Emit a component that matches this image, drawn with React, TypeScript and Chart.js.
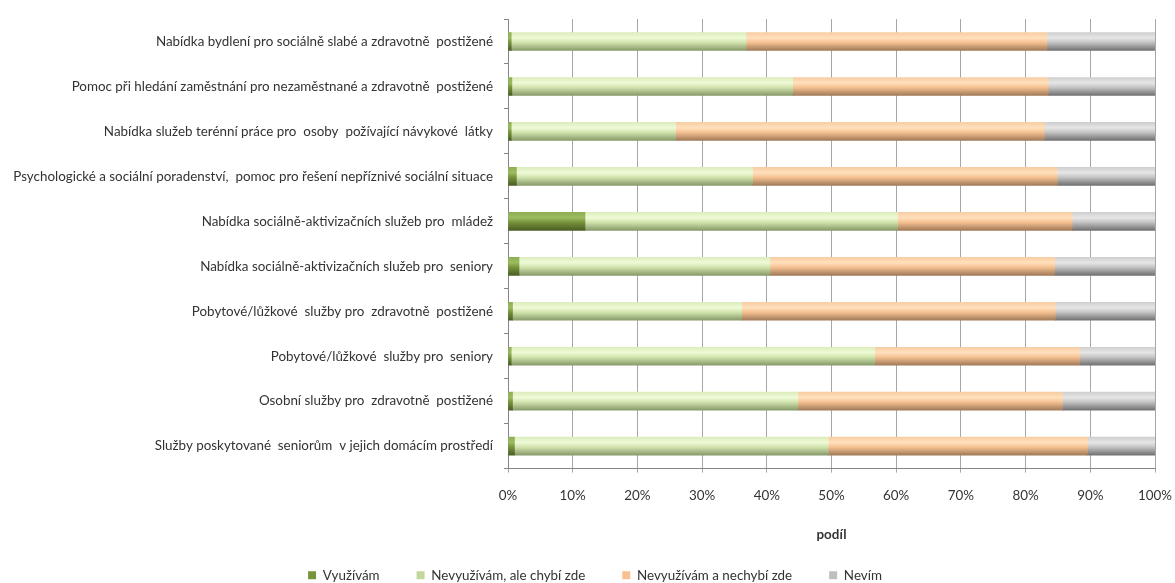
import React, { useEffect, useRef } from 'react';
import { Chart, registerables } from 'chart.js';

Chart.register(...registerables);

const categories = [
  'Nabídka bydlení pro sociálně slabé a zdravotně  postižené',
  'Pomoc při hledání zaměstnání pro nezaměstnané a zdravotně  postižené',
  'Nabídka služeb terénní práce pro  osoby  požívající návykové  látky',
  'Psychologické a sociální poradenství,  pomoc pro řešení nepříznivé sociální situace',
  'Nabídka sociálně-aktivizačních služeb pro  mládež',
  'Nabídka sociálně-aktivizačních služeb pro  seniory',
  'Pobytové/lůžkové  služby pro  zdravotně  postižené',
  'Pobytové/lůžkové  služby pro  seniory',
  'Osobní služby pro  zdravotně  postižené',
  'Služby poskytované  seniorům  v jejich domácím prostředí',
];

const seriesNames = ['Využívám', 'Nevyužívám, ale chybí zde', 'Nevyužívám a nechybí zde', 'Nevím'];

const vyuzivam = [0.5, 0.6, 0.5, 1.3, 11.9, 1.7, 0.7, 0.5, 0.7, 1.0];
const chybiZde = [36.3, 43.4, 25.4, 36.5, 48.3, 38.8, 35.4, 56.2, 44.1, 48.5];
const nechybiZde = [46.5, 39.5, 57.0, 47.1, 27.0, 44.0, 48.5, 31.7, 40.9, 40.1];
const nevim = [16.7, 16.5, 17.1, 15.1, 12.8, 15.5, 15.4, 11.6, 14.3, 10.4];

const xMin = 0;
const xMax = 100;
const xStep = 10;
const xTitle = 'podíl';

const legendColors = ['#77933C', '#C3D69B', '#FAC090', '#BFBFBF'];
// gradient stops: top, highlight, base, bottom
const gradientStops = [
  ['#8FAE55', '#9CBC60', '#77933C', '#4A5E24'],
  ['#DDEDBE', '#EEFAD6', '#D2E4AE', '#879A69'],
  ['#F8CDA4', '#FFE0BD', '#F6C292', '#A07A58'],
  ['#CFCFCF', '#E6E6E6', '#C4C4C4', '#717171'],
];

const BAR = 18;

function makeBg(i: number) {
  return (ctx: any) => {
    const chart = ctx.chart;
    const { chartArea, scales } = chart;
    if (!chartArea || ctx.type !== 'data' || !scales.y) return legendColors[i];
    const y = scales.y.getPixelForValue(ctx.dataIndex);
    const g = chart.ctx.createLinearGradient(0, y - BAR / 2, 0, y + BAR / 2);
    const s = gradientStops[i];
    g.addColorStop(0, s[0]);
    g.addColorStop(0.3, s[1]);
    g.addColorStop(0.55, s[2]);
    g.addColorStop(1, s[3]);
    return g;
  };
}

export default function App() {
  const ref = useRef<HTMLCanvasElement | null>(null);
  useEffect(() => {
    if (!ref.current) return;
    const seriesData = [vyuzivam, chybiZde, nechybiZde, nevim];
    const font = { family: 'Lato, "Open Sans", sans-serif', size: 13.4 };
    const chart = new Chart(ref.current, {
      type: 'bar',
      data: {
        labels: categories,
        datasets: seriesData.map((d, i) => ({
          label: seriesNames[i],
          data: d,
          backgroundColor: makeBg(i),
          borderWidth: 0,
          barThickness: BAR,
        })),
      },
      options: {
        indexAxis: 'y',
        animation: false,
        responsive: true,
        maintainAspectRatio: false,
        layout: { padding: { top: 15, right: -7, left: 8, bottom: -9 } },
        scales: {
          x: {
            stacked: true,
            min: xMin,
            max: xMax,
            ticks: {
              stepSize: xStep,
              callback: (v: any) => v + '%',
              font,
              color: '#333',
              padding: 15,
              maxRotation: 0,
            },
            grid: { color: '#a6a6a6', lineWidth: 1, tickLength: 4, drawTicks: true },
            border: { display: true, color: '#868686' },
            title: {
              display: true,
              text: xTitle,
              font: { ...font, weight: 'bold' },
              color: '#333',
              padding: { top: 0, bottom: -11 },
            },
            afterFit: (scale: any) => {
              scale.height = 63;
              scale.paddingRight = 20;
              scale.paddingLeft = 0;
            },
          },
          y: {
            stacked: true,
            ticks: { font, color: '#333', padding: 11, autoSkip: false },
            grid: {
              display: true,
              drawOnChartArea: false,
              drawTicks: true,
              tickLength: 4,
              color: '#868686',
              offset: true,
            },
            border: { display: true, color: '#868686' },
            afterFit: (scale: any) => {
              scale.width = 500;
            },
          },
        },
        plugins: {
          tooltip: { enabled: false },
          legend: {
            position: 'bottom',
            labels: {
              font,
              color: '#333',
              boxWidth: 8,
              boxHeight: 8,
              padding: 37,
              generateLabels: (ch: any) =>
                ch.data.datasets.map((ds: any, i: number) => ({
                  text: ds.label,
                  fillStyle: legendColors[i],
                  strokeStyle: legendColors[i],
                  lineWidth: 0,
                  hidden: false,
                  datasetIndex: i,
                  fontColor: '#333',
                })),
            },
          },
        },
      } as any,
    });
    return () => chart.destroy();
  }, []);
  return (
    <div style={{ position: 'fixed', left: 0, top: 0, width: 1175, height: 583, background: '#fff' }}>
      <canvas ref={ref} />
    </div>
  );
}
